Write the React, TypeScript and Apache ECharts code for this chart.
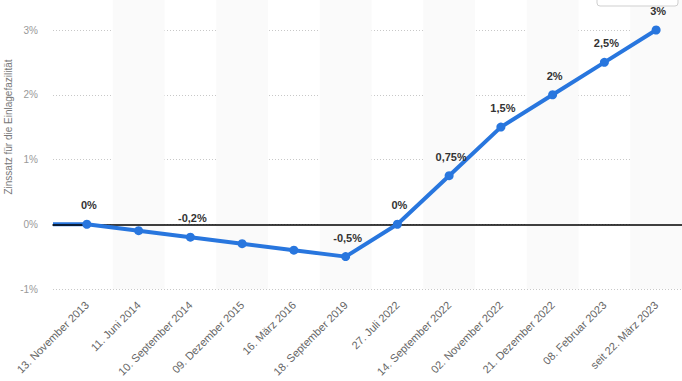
import React, { useEffect, useRef } from "react";
import * as echarts from "echarts";

const categories = [
  "13. November 2013",
  "11. Juni 2014",
  "10. September 2014",
  "09. Dezember 2015",
  "16. März 2016",
  "18. September 2019",
  "27. Juli 2022",
  "14. September 2022",
  "02. November 2022",
  "21. Dezember 2022",
  "08. Februar 2023",
  "seit 22. März 2023",
];
const rates = [0, -0.1, -0.2, -0.3, -0.4, -0.5, 0, 0.75, 1.5, 2, 2.5, 3];
const pointLabels = ["0%", "", "-0,2%", "", "", "-0,5%", "0%", "0,75%", "1,5%", "2%", "2,5%", "3%"];
const yTicks = { min: -1, max: 3, interval: 1 };
const yAxisTitle = "Zinssatz für die Einlagefazilität";

const BLUE = "#2876de";
const FONT = "'Liberation Sans', Arial, sans-serif";

export default function App() {
  const ref = useRef<HTMLDivElement>(null);
  useEffect(() => {
    if (!ref.current) return;
    const chart = echarts.init(ref.current, undefined, { renderer: "svg" });
    const pxPerUnit = 259 / (yTicks.max - yTicks.min);
    const bandTopMax = yTicks.max + 30 / pxPerUnit;
    chart.setOption({
      animation: false,
      textStyle: { fontFamily: FONT },
      grid: [
        { left: 53, top: 30, width: 633, height: 259 },
        { left: 61, top: 0, width: 625, height: 289 },
        { left: 61, top: 30, width: 625, height: 259 },
        { left: 53, top: 30, width: 34, height: 259 },
      ],
      xAxis: [
        {
          gridIndex: 0,
          type: "category",
          data: categories,
          axisLabel: { show: false },
          axisTick: { show: false },
          axisLine: { show: true, onZero: true, lineStyle: { color: "#000", width: 1.5 } },
          z: 3,
        },
        {
          gridIndex: 1,
          type: "category",
          data: categories,
          axisTick: { show: false },
          axisLine: { show: false },
          splitArea: { show: true, areaStyle: { color: ["rgba(255,255,255,0)", "#fafafa"] } },
          axisLabel: {
            rotate: 45,
            color: "#666",
            fontSize: 11,
            margin: 14,
            interval: 0,
          },
        },
        {
          gridIndex: 2,
          type: "category",
          data: categories,
          show: false,
        },
        {
          gridIndex: 3,
          type: "category",
          boundaryGap: false,
          data: ["", ""],
          show: false,
        },
      ],
      yAxis: [
        {
          gridIndex: 0,
          type: "value",
          min: yTicks.min,
          max: yTicks.max,
          interval: yTicks.interval,
          axisLine: { show: false },
          axisTick: { show: false },
          axisLabel: { formatter: "{value}%", color: "#999", fontSize: 10, margin: 15 },
          splitLine: { show: true, lineStyle: { color: "#c8c8c8", type: [1, 2], width: 1 } },
        },
        { gridIndex: 1, type: "value", min: yTicks.min, max: bandTopMax, show: false },
        { gridIndex: 2, type: "value", min: yTicks.min, max: yTicks.max, show: false },
        { gridIndex: 3, type: "value", min: yTicks.min, max: yTicks.max, show: false },
      ],
      series: [
        {
          type: "line",
          xAxisIndex: 3,
          yAxisIndex: 3,
          data: [rates[0], rates[0]],
          symbol: "none",
          lineStyle: { color: BLUE, width: 4 },
          z: 2,
          silent: true,
        },
        {
          type: "line",
          xAxisIndex: 2,
          yAxisIndex: 2,
          data: rates,
          symbol: "circle",
          symbolSize: 9,
          itemStyle: { color: BLUE },
          lineStyle: { color: BLUE, width: 4 },
          z: 4,
          label: {
            show: true,
            position: "top",
            distance: 9,
            offset: [2, 0],
            color: "#333",
            fontWeight: "bold",
            fontSize: 11,
            formatter: (p: any) => pointLabels[p.dataIndex],
          },
        },
      ],
      graphic: [
        {
          type: "text",
          x: 8,
          y: 127,
          rotation: Math.PI / 2,
          style: {
            text: yAxisTitle,
            fill: "#777",
            fontSize: 10,
            fontFamily: FONT,
            align: "center",
            verticalAlign: "middle",
          },
        },
        {
          type: "rect",
          shape: { x: 597, y: -5, width: 81, height: 11, r: 3 },
          style: { fill: "#fff", stroke: "#cfcfcf", lineWidth: 1 },
          z: 10,
        },
      ],
    });
    return () => chart.dispose();
  }, []);
  return (
    <div
      ref={ref}
      style={{ position: "fixed", left: 0, top: 0, width: 682, height: 381, background: "#fff" }}
    />
  );
}
